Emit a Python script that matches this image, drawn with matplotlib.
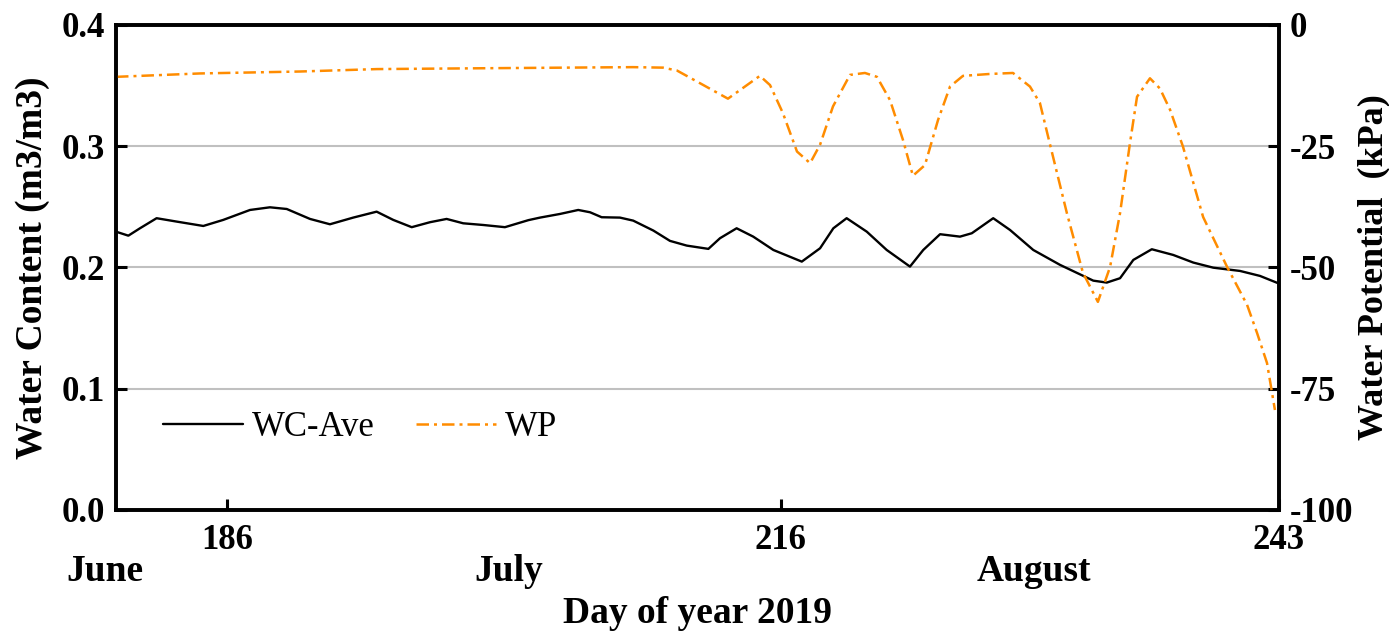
import matplotlib
matplotlib.use("Agg")
import matplotlib.pyplot as plt
from matplotlib.transforms import blended_transform_factory

plt.rcParams['font.family'] = ['Liberation Serif', 'DejaVu Serif']
plt.rcParams['axes.unicode_minus'] = False

# average water content (m3/m3) by day of year
wc_day = [180.0, 180.67, 181.30, 182.20, 183.29, 184.73, 185.81, 187.26, 188.34, 189.25,
          190.51, 191.59, 192.85, 194.12, 195.02, 196.02, 197.01, 197.91, 198.81, 199.90,
          201.07, 202.34, 202.97, 204.05, 205.04, 205.68, 206.31, 207.30, 208.02, 209.11,
          210.01, 210.92, 212.09, 212.72, 213.62, 214.52, 215.61, 217.15, 218.14, 218.86,
          219.58, 220.67, 221.75, 223.01, 223.73, 224.64, 225.72, 226.36, 227.52, 228.43,
          229.69, 231.14, 232.94, 233.67, 234.39, 235.11, 236.11, 237.27, 238.36, 239.44,
          240.89, 241.97, 242.95]
wc_val = [0.2295, 0.2262, 0.2323, 0.2406, 0.2378, 0.2342, 0.2392, 0.2474, 0.2496, 0.2482,
          0.2400, 0.2356, 0.2411, 0.2460, 0.2392, 0.2332, 0.2373, 0.2400, 0.2364, 0.2350,
          0.2332, 0.2390, 0.2411, 0.2441, 0.2474, 0.2455, 0.2414, 0.2411, 0.2386, 0.2304,
          0.2219, 0.2180, 0.2153, 0.2241, 0.2323, 0.2254, 0.2144, 0.2048, 0.2158, 0.2323,
          0.2406, 0.2295, 0.2144, 0.2007, 0.2144, 0.2274, 0.2254, 0.2282, 0.2406, 0.2309,
          0.2144, 0.2021, 0.1891, 0.1875, 0.1911, 0.2062, 0.2150, 0.2103, 0.2040, 0.1998,
          0.1971, 0.1930, 0.1870]

# water potential (kPa) by day of year
wp_day = [180.0, 184.55, 189.97, 194.14, 200.8, 208.0, 209.63, 210.39, 211.63, 213.15,
          214.88, 215.43, 216.13, 216.89, 217.6, 218.14, 218.84, 219.76, 220.57, 221.22,
          221.93, 222.63, 223.17, 223.82, 224.53, 225.18, 225.88, 227.35, 228.59, 229.51,
          230.05, 230.6, 231.51, 232.38, 233.19, 233.85, 234.39, 234.93, 235.31, 236.01,
          236.55, 237.1, 237.8, 238.89, 240.19, 241.27, 241.81, 242.35, 242.78]
wp_val = [-10.7, -10.0, -9.6, -9.1, -8.9, -8.7, -8.8, -9.4, -12.0, -15.2,
          -10.5, -12.4, -18.2, -26.1, -28.5, -24.7, -16.8, -10.3, -9.9, -10.7,
          -15.5, -23.7, -31.1, -28.9, -19.6, -12.7, -10.5, -10.1, -9.9, -12.7,
          -16.1, -24.7, -38.8, -51.1, -57.1, -49.9, -38.8, -24.3, -14.8, -11.0,
          -13.1, -17.5, -25.1, -39.6, -49.9, -57.7, -63.5, -69.7, -79.4]

day_ticks = [186, 216, 243]
months = ['June', 'July', 'August']
month_pos = [179.4, 201.3, 229.7]

fig = plt.figure(figsize=(13.89, 6.35), dpi=100)
ax = fig.add_axes([0.0835, 0.197, 0.8373, 0.7637])
ax2 = ax.twinx()

ax.set_xlim(180, 243)
ax.set_ylim(0, 0.4)
ax2.set_ylim(-100, 0)
ax.set_yticks([0.0, 0.1, 0.2, 0.3, 0.4])
ax.set_yticklabels(['0.0', '0.1', '0.2', '0.3', '0.4'])
ax2.set_yticks([-100, -75, -50, -25, 0])
ax.set_xticks(day_ticks)
ax.set_xticklabels([str(d) for d in day_ticks])

ax.grid(axis='y', color='#c0c0c0', linewidth=1.5)
ax.set_axisbelow(True)

l1, = ax.plot(wc_day, wc_val, color='black', linewidth=1.7, label='WC-Ave',
              solid_joinstyle='round', solid_capstyle='round')
l2, = ax2.plot(wp_day, wp_val, color='#ff8c00', linewidth=1.8,
               linestyle=(0, (5, 2, 1.2, 2)), label='WP')

for a in (ax, ax2):
    for s in a.spines.values():
        s.set_linewidth(2.6)
ax.tick_params(axis='both', direction='in', length=8, width=2.2,
               labelsize=25)
ax.tick_params(axis='x', pad=10)
ax.tick_params(axis='y', pad=8)
ax2.tick_params(axis='y', direction='in', length=8, width=2.2,
                labelsize=25, pad=8)
for lab in ax.get_xticklabels() + ax.get_yticklabels() + ax2.get_yticklabels():
    lab.set_fontweight('bold')

ax.set_ylabel('Water Content (m3/m3)', fontsize=27, fontweight='bold')
ax.yaxis.set_label_coords(-0.057, 0.5)
ax2.set_ylabel('Water Potential  (kPa)', fontsize=26, fontweight='bold')
ax2.yaxis.set_label_coords(1.067, 0.5)

trans = blended_transform_factory(ax.transData, ax.transAxes)
for m, p in zip(months, month_pos):
    ax.text(p, -0.128, m, transform=trans, ha='center', va='center',
            fontsize=27, fontweight='bold')
ax.text(0.5, -0.214, 'Day of year 2019', transform=ax.transAxes, ha='center',
        va='center', fontsize=27, fontweight='bold')

ax.legend(handles=[l1, l2], loc='center left', bbox_to_anchor=(0.0, 0.17),
          ncol=2, frameon=False, fontsize=25, handlelength=2.3,
          handletextpad=0.25, columnspacing=1.2, borderaxespad=0.95)

fig.savefig('out.png', dpi=100)
